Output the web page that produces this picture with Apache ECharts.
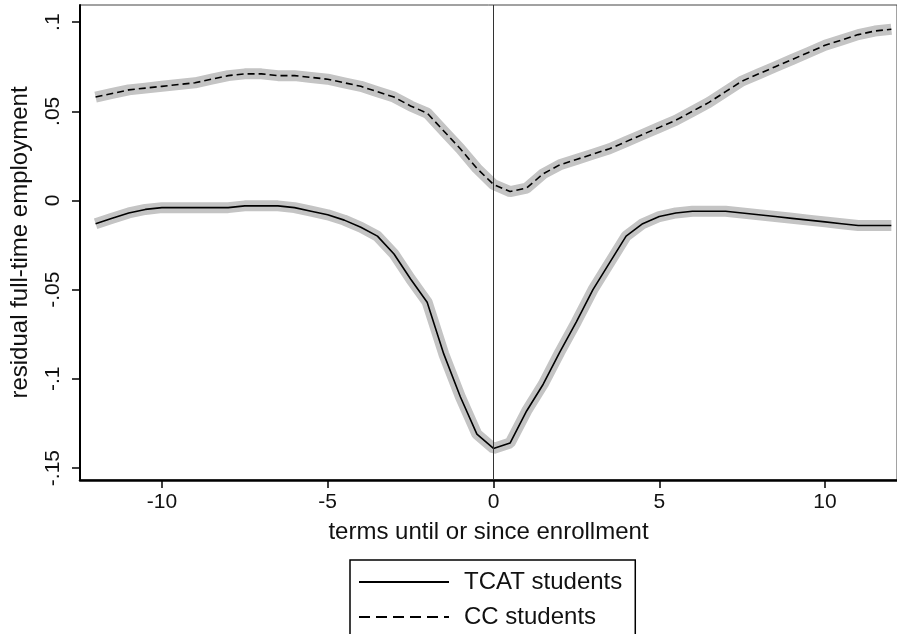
<!DOCTYPE html>
<html>
<head>
<meta charset="utf-8">
<script src="https://cdn.jsdelivr.net/npm/echarts@6/dist/echarts.min.js"></script>
<style>
  html, body { margin: 0; padding: 0; background: #fff; }
  #chart { width: 897px; height: 634px; }
</style>
</head>
<body>
<div id="chart"></div>
<script>
var terms = [-12, -11.5, -11, -10.5, -10, -9.5, -9, -8.5, -8, -7.5, -7, -6.5, -6, -5.5, -5, -4.5, -4, -3.5, -3, -2.5, -2, -1.5, -1, -0.5,
  0, 0.5, 1, 1.5, 2, 2.5, 3, 3.5, 4, 4.5, 5, 5.5, 6, 6.5, 7, 7.5, 8, 8.5, 9, 9.5, 10, 10.5, 11, 11.5, 12];

var tcat = [-0.013, -0.010, -0.007, -0.005, -0.004, -0.004, -0.004, -0.004, -0.004, -0.003, -0.003, -0.003, -0.004, -0.006, -0.008, -0.011, -0.015, -0.020, -0.030, -0.044, -0.057, -0.086, -0.110, -0.131,
  -0.139, -0.136, -0.118, -0.103, -0.085, -0.068, -0.050, -0.035, -0.020, -0.013, -0.009, -0.007, -0.006, -0.006, -0.006, -0.007, -0.008, -0.009, -0.010, -0.011, -0.012, -0.013, -0.014, -0.014, -0.014];

var cc = [0.058, 0.060, 0.062, 0.063, 0.064, 0.065, 0.066, 0.068, 0.070, 0.071, 0.071, 0.070, 0.070, 0.069, 0.068, 0.066, 0.064, 0.061, 0.058, 0.053, 0.049, 0.039, 0.029, 0.018,
  0.009, 0.005, 0.007, 0.015, 0.020, 0.023, 0.026, 0.029, 0.033, 0.037, 0.041, 0.045, 0.050, 0.055, 0.061, 0.067, 0.071, 0.075, 0.079, 0.083, 0.087, 0.090, 0.093, 0.095, 0.096];

var yTicks = [-0.15, -0.1, -0.05, 0, 0.05, 0.1];
var xTicks = [-10, -5, 0, 5, 10];

function pairs(vals) {
  return terms.map(function (t, i) { return [t, vals[i]]; });
}

var fontFam = '"Liberation Sans", Arial, sans-serif';
var textCol = '#111';

var myChart = echarts.init(document.getElementById('chart'));
var option = {
  animation: false,
  grid: {
    left: 79, right: 0, top: 5, bottom: 154,
    show: true, borderColor: '#444', borderWidth: 1
  },
  legend: {
    orient: 'vertical',
    left: 350, top: 560, height: 140,
    data: [
      { name: 'TCAT students' },
      { name: 'CC students', lineStyle: { type: [11, 6] } }
    ],
    itemWidth: 90, itemHeight: 14, itemGap: 11,
    padding: [10, 13, 40, 8],
    borderColor: '#000', borderWidth: 1.5,
    itemStyle: { opacity: 0 },
    textStyle: { fontFamily: fontFam, fontSize: 24, color: textCol, lineHeight: 24, padding: [0, 0, 0, 10] }
  },
  xAxis: {
    type: 'value',
    min: -12.47, max: 12.17,
    name: 'terms until or since enrollment',
    nameLocation: 'middle', nameGap: 40,
    nameTextStyle: { fontFamily: fontFam, fontSize: 24, color: textCol },
    axisLine: { onZero: false, lineStyle: { color: '#000', width: 2.5 } },
    axisTick: { customValues: xTicks, length: 8, lineStyle: { color: '#000', width: 1.5 } },
    axisLabel: { customValues: xTicks, fontFamily: fontFam, fontSize: 21, color: textCol, margin: 12 },
    splitLine: { show: false }
  },
  yAxis: {
    type: 'value',
    min: -0.1567, max: 0.1096,
    name: 'residual full-time employment',
    nameLocation: 'middle', nameGap: 48, nameRotate: 90,
    nameTextStyle: { fontFamily: fontFam, fontSize: 24, color: textCol },
    axisLine: { onZero: false, lineStyle: { color: '#000', width: 2 } },
    axisTick: { customValues: yTicks, length: 8, lineStyle: { color: '#000', width: 1.5 } },
    axisLabel: {
      customValues: yTicks, rotate: 90, margin: 16,
      fontFamily: fontFam, fontSize: 21, color: textCol,
      formatter: function (v) { return String(v).replace('0.', '.'); }
    },
    splitLine: { show: false }
  },
  series: [
    {
      name: 'TCAT band', type: 'line', data: pairs(tcat), symbol: 'none', silent: true,
      lineStyle: { color: '#c4c4c4', width: 11, cap: 'butt' }, z: 1
    },
    {
      name: 'CC band', type: 'line', data: pairs(cc), symbol: 'none', silent: true,
      lineStyle: { color: '#c4c4c4', width: 11, cap: 'butt' }, z: 1
    },
    {
      name: 'TCAT students', type: 'line', data: pairs(tcat), symbol: 'none',
      itemStyle: { color: '#000' },
      lineStyle: { color: '#000', width: 1.6 }, z: 3,
      markLine: {
        silent: true, symbol: 'none', label: { show: false },
        lineStyle: { color: '#333', width: 1, type: 'solid' },
        data: [{ xAxis: 0 }]
      }
    },
    {
      name: 'CC students', type: 'line', data: pairs(cc), symbol: 'none',
      itemStyle: { color: '#000' },
      lineStyle: { color: '#000', width: 1.6, type: [7, 4] }, z: 3
    }
  ]
};

myChart.setOption(option);
window.onresize = () => myChart.resize();
</script>
</body>
</html>
